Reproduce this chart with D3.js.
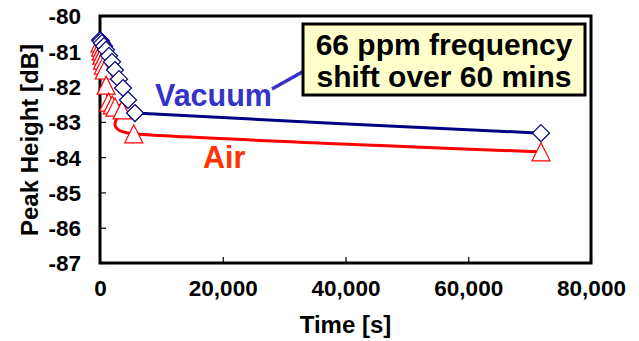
<!DOCTYPE html>
<html>
<head>
<meta charset="utf-8">
<script src="https://cdn.jsdelivr.net/npm/d3@7"></script>
<style>
  body { margin: 0; background: #fff; }
  text { font-family: "Liberation Sans", Arial, sans-serif; font-weight: bold; }
</style>
</head>
<body>
<svg id="chart" width="639" height="341"></svg>
<script>
// time [s] and peak height [dB]
const vacuumTime = [0, 160, 330, 650, 980, 1470, 1960, 2440, 3100, 3750, 4560, 5700, 71850];
const vacuumPeak = [-80.68, -80.71, -80.77, -80.85, -80.96, -81.13, -81.30, -81.53, -81.79, -82.04, -82.38, -82.75, -83.32];
const airTime = [0, 100, 200, 300, 400, 550, 700, 1000, 1400, 2000, 2450, 3600, 5500, 71850];
const airPeak = [-80.76, -80.88, -80.99, -81.11, -81.25, -81.39, -81.53, -81.96, -82.44, -82.52, -82.58, -82.66, -83.34, -83.85];
const xTicks = [0, 20000, 40000, 60000, 80000];
const yTicks = [-80, -81, -82, -83, -84, -85, -86, -87];

const svg = d3.select('#chart');
const plot = {left: 100, right: 591, top: 16, bottom: 263};

const x = d3.scaleLinear().domain([0, 80000]).range([plot.left, plot.right]);
const y = d3.scaleLinear().domain([-87, -80]).range([plot.bottom, plot.top]);

const vacuum = vacuumTime.map((t, i) => [t, vacuumPeak[i]]);
const air = airTime.map((t, i) => [t, airPeak[i]]);

// axes, ticks inside
const xAxis = d3.axisBottom(x).tickValues(xTicks).tickSizeInner(-6).tickSizeOuter(0)
  .tickPadding(17).tickFormat(d3.format(','));
const yAxis = d3.axisLeft(y).tickValues(yTicks).tickSizeInner(-6).tickSizeOuter(0)
  .tickPadding(19).tickFormat(d => d);

const gx = svg.append('g').attr('transform', 'translate(0,' + plot.bottom + ')').call(xAxis);
const gy = svg.append('g').attr('transform', 'translate(' + plot.left + ',0)').call(yAxis);
[gx, gy].forEach(g => {
  g.select('.domain').remove();
  g.selectAll('.tick line').attr('stroke', '#000').attr('stroke-width', 1.2);
  g.selectAll('.tick text').attr('fill', '#000').style('font-size', '22.5px');
});
gx.selectAll('.tick text').attr('dy', '0.71em');
gy.selectAll('.tick text').attr('dy', '0.35em');

svg.append('rect')
   .attr('x', plot.left).attr('y', plot.top)
   .attr('width', plot.right - plot.left).attr('height', plot.bottom - plot.top)
   .attr('fill', 'none').attr('stroke', '#000').attr('stroke-width', 3);

svg.append('text')
   .attr('x', (plot.left + plot.right) / 2).attr('y', 333)
   .attr('text-anchor', 'middle').style('font-size', '24px')
   .text('Time [s]');

svg.append('text')
   .attr('transform', 'translate(38,140) rotate(-90)')
   .attr('text-anchor', 'middle').style('font-size', '24px')
   .text('Peak Height [dB]');

// lines
const line = d3.line()
  .x(d => x(d[0]))
  .y(d => y(d[1]))
  .curve(d3.curveCardinal.tension(0.5));

svg.append('path').datum(vacuum)
   .attr('d', line).attr('fill', 'none')
   .attr('stroke', '#000080').attr('stroke-width', 3);
svg.append('path').datum(air)
   .attr('d', line).attr('fill', 'none')
   .attr('stroke', '#ff0000').attr('stroke-width', 3);

// markers
svg.append('g').selectAll('path')
   .data(air).join('path')
   .attr('transform', d => 'translate(' + x(d[0]) + ',' + y(d[1]) + ')')
   .attr('d', 'M0,-9L9,9L-9,9Z')
   .attr('fill', '#fff').attr('stroke', '#ff0000').attr('stroke-width', 1.2);

svg.append('g').selectAll('path')
   .data(vacuum).join('path')
   .attr('transform', d => 'translate(' + x(d[0]) + ',' + y(d[1]) + ')')
   .attr('d', 'M0,-8.5L8.5,0L0,8.5L-8.5,0Z')
   .attr('fill', '#fff').attr('stroke', '#000080').attr('stroke-width', 1.2);

// series labels
svg.append('text').attr('x', 155).attr('y', 106)
   .attr('fill', '#3333cc').style('font-size', '30.5px').text('Vacuum');
svg.append('text').attr('x', 203).attr('y', 168)
   .attr('fill', '#ff3300').style('font-size', '30.5px').text('Air');

// callout
svg.append('line')
   .attr('x1', 272).attr('y1', 89).attr('x2', 304).attr('y2', 71)
   .attr('stroke', '#3333cc').attr('stroke-width', 3.5);
svg.append('rect')
   .attr('x', 303).attr('y', 24).attr('width', 282).attr('height', 71)
   .attr('fill', '#ffffcc').attr('stroke', '#000').attr('stroke-width', 3);
const note = ['66 ppm frequency', 'shift over 60 mins'];
svg.append('g').selectAll('text')
   .data(note).join('text')
   .attr('x', 444).attr('y', (d, i) => 55 + i * 32)
   .attr('text-anchor', 'middle').style('font-size', '30px')
   .text(d => d);
</script>
</body>
</html>
